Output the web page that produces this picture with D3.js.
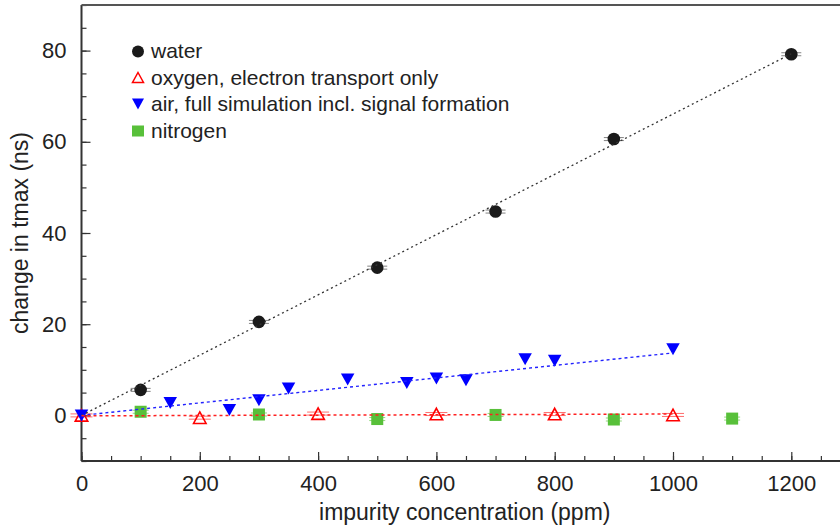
<!DOCTYPE html>
<html><head><meta charset="utf-8">
<script src="https://cdn.jsdelivr.net/npm/d3@7"></script>
<style>
body{margin:0;background:#fff;}
text{font-family:"Liberation Sans",Arial,Helvetica,sans-serif;fill:#222;}
</style></head>
<body><svg id="c" width="840" height="530"></svg>
<script>
// ---- data ----
const waterX = [100, 300, 500, 700, 900, 1200];
const waterY = [5.6, 20.5, 32.4, 44.7, 60.6, 79.2];
const oxyX = [0, 200, 400, 600, 800, 1000];
const oxyY = [0, -0.5, 0.4, 0.3, 0.3, 0.1];
const airX = [0, 150, 250, 300, 350, 450, 550, 600, 650, 750, 800, 1000];
const airY = [0, 2.7, 1.2, 3.3, 5.9, 7.9, 7.1, 8.1, 7.7, 12.3, 12.0, 14.5];
const nitX = [100, 300, 500, 700, 900, 1100];
const nitY = [0.8, 0.2, -0.8, 0.1, -0.9, -0.7];
const waterFitX = [0, 1200], waterFitY = [0, 79.3];
const airFitX = [0, 1000], airFitY = [0, 13.7];
const oxyFitX = [0, 1000], oxyFitY = [-0.1, 0.3];
const xTicks = [0, 200, 400, 600, 800, 1000, 1200];
const yTicks = [0, 20, 40, 60, 80];
const legendLabels = ["water", "oxygen, electron transport only", "air, full simulation incl. signal formation", "nitrogen"];
const xTitle = "impurity concentration (ppm)";
const yTitle = "change in tmax (ns)";

const svg = d3.select("#c");
svg.append("rect").attr("width",840).attr("height",530).attr("fill","#fff");
const L = 81.5, T = 5, B = 461;
const x = d3.scaleLinear().domain([0, 1300]).range([L, L + 1300*0.5915]);
const y = d3.scaleLinear().domain([-10, 90]).range([B, T]);

// axes
const ax = svg.append("g");
const xMinor = d3.range(0, 1301, 50);
const yMinor = d3.range(-10, 91, 5);
ax.append("g").attr("transform",`translate(0,${B})`)
  .call(d3.axisBottom(x).tickValues(xMinor).tickSize(-5).tickFormat(""))
  .call(g=>g.select(".domain").remove())
  .selectAll("line").attr("stroke","#333").attr("stroke-width",1.2);
ax.append("g").attr("transform",`translate(0,${B})`)
  .call(d3.axisBottom(x).tickValues(xTicks).tickSize(-9).tickPadding(14).tickFormat(d3.format("d")))
  .call(g=>g.select(".domain").remove())
  .call(g=>g.selectAll("line").attr("stroke","#333").attr("stroke-width",1.2))
  .call(g=>g.selectAll("text").attr("font-size",22).attr("fill","#222").attr("font-family",'"Liberation Sans",Arial,sans-serif'));
ax.append("g").attr("transform",`translate(${L},0)`)
  .call(d3.axisLeft(y).tickValues(yMinor).tickSize(-5).tickFormat(""))
  .call(g=>g.select(".domain").remove())
  .selectAll("line").attr("stroke","#333").attr("stroke-width",1.2);
ax.append("g").attr("transform",`translate(${L},0)`)
  .call(d3.axisLeft(y).tickValues(yTicks).tickSize(-9).tickPadding(15).tickFormat(d3.format("d")))
  .call(g=>g.select(".domain").remove())
  .call(g=>g.selectAll("line").attr("stroke","#333").attr("stroke-width",1.2))
  .call(g=>g.selectAll("text").attr("font-size",22).attr("fill","#222").attr("font-family",'"Liberation Sans",Arial,sans-serif'));
// frame lines
ax.append("line").attr("x1",L).attr("x2",840).attr("y1",B).attr("y2",B).attr("stroke","#333").attr("stroke-width",2);
ax.append("line").attr("x1",L).attr("x2",L).attr("y1",T).attr("y2",B).attr("stroke","#333").attr("stroke-width",2);
ax.append("line").attr("x1",L).attr("x2",840).attr("y1",T).attr("y2",T).attr("stroke","#555").attr("stroke-width",2);

// titles
svg.append("text").attr("x",(L+840)/2+4).attr("y",520).attr("text-anchor","middle").attr("font-size",23).text(xTitle);
svg.append("text").attr("transform",`translate(28,${(T+B)/2}) rotate(-90)`).attr("text-anchor","middle").attr("font-size",23).text(yTitle);

const zip = (a,b)=>a.map((v,i)=>[v,b[i]]);
const line = d3.line().x(d=>x(d[0])).y(d=>y(d[1]));

// shapes
const upTri = (w,h)=>`M0,${-h/2}L${w/2},${h/2}L${-w/2},${h/2}Z`;
const dnTri = (w,h)=>`M0,${h/2}L${w/2},${-h/2}L${-w/2},${-h/2}Z`;

function errBars(g, pts, color, half, op){
  pts.forEach(p=>{
    [-1.5,1.5].forEach(o=>{
      g.append("line").attr("x1",x(p[0])-half).attr("x2",x(p[0])+half)
       .attr("y1",y(p[1])+o).attr("y2",y(p[1])+o).attr("stroke",color).attr("stroke-width",1).attr("opacity",op);
    });
  });
}

const gm = svg.append("g");
// water
const wPts = zip(waterX, waterY);
errBars(gm, wPts, "#777", 10, 0.9);
gm.selectAll(".w").data(wPts).join("circle").attr("cx",d=>x(d[0])).attr("cy",d=>y(d[1])).attr("r",6.3).attr("fill","#1a1a1a");
// oxygen
const oPts = zip(oxyX, oxyY);
errBars(gm, oPts, "#ff3030", 11, 0.7);
gm.selectAll(".o").data(oPts).join("path").attr("d",upTri(12.5,11.5))
  .attr("transform",d=>`translate(${x(d[0])},${y(d[1])})`).attr("fill","none").attr("stroke","#ff0000").attr("stroke-width",1.6);
// air
const aPts = zip(airX, airY);
gm.selectAll(".a").data(aPts).join("path").attr("d",dnTri(13.5,12))
  .attr("transform",d=>`translate(${x(d[0])},${y(d[1])})`).attr("fill","#0000ff");
// nitrogen
const nPts = zip(nitX, nitY);
errBars(gm, nPts, "#7bd060", 8, 0.8);
gm.selectAll(".n").data(nPts).join("rect").attr("x",d=>x(d[0])-6).attr("y",d=>y(d[1])-6).attr("width",12).attr("height",12).attr("fill","#58c03a");

// fits
svg.append("path").attr("d",line(zip(waterFitX,waterFitY))).attr("fill","none").attr("stroke","#333").attr("stroke-width",1.3).attr("stroke-dasharray","2,3");
svg.append("path").attr("d",line(zip(airFitX,airFitY))).attr("fill","none").attr("stroke","#2222ff").attr("stroke-width",1.4).attr("stroke-dasharray","3,3");
svg.append("path").attr("d",line(zip(oxyFitX,oxyFitY))).attr("fill","none").attr("stroke","#ff2020").attr("stroke-width",1.5).attr("stroke-dasharray","3,3");

// legend
const lg = svg.append("g");
const rowsY = [58, 84.5, 111, 137.5];
legendLabels.forEach((t,i)=>{
  lg.append("text").attr("x",151).attr("y",rowsY[i]).attr("font-size",21).text(t);
});
const mx = 138;
lg.append("circle").attr("cx",mx).attr("cy",rowsY[0]-6.5).attr("r",6).attr("fill","#1a1a1a");
lg.append("path").attr("d",upTri(11,10)).attr("transform",`translate(${mx},${rowsY[1]-7})`).attr("fill","none").attr("stroke","#ff0000").attr("stroke-width",1.5);
lg.append("path").attr("d",dnTri(12,11)).attr("transform",`translate(${mx},${rowsY[2]-7})`).attr("fill","#0000ff");
lg.append("rect").attr("x",mx-6).attr("y",rowsY[3]-12).attr("width",12).attr("height",11).attr("fill","#58c03a");
</script></body></html>
